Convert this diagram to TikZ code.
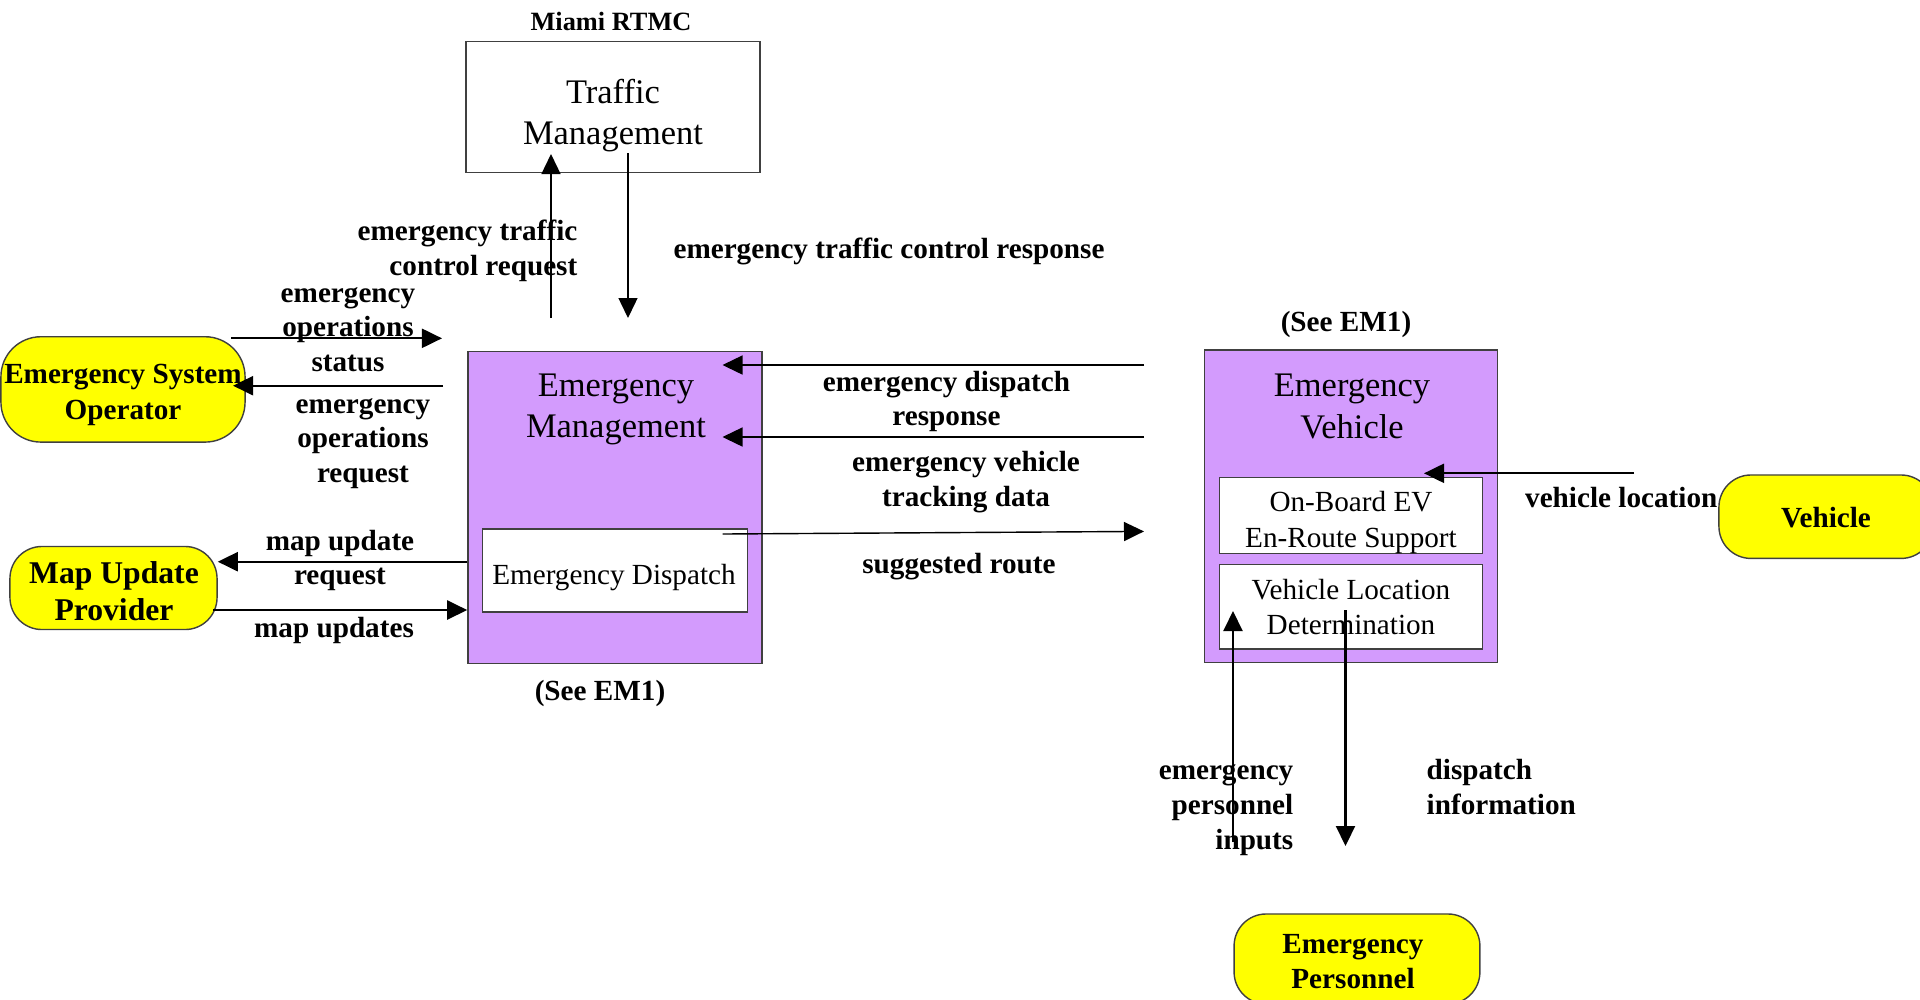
\documentclass[tikz,border=0pt]{standalone}
\usepackage{fontspec}
\setmainfont{Liberation Serif}
\usepackage{tikz}
\usetikzlibrary{arrows.meta,positioning,calc}

\definecolor{empurple}{HTML}{D39BFD}
\definecolor{termyellow}{HTML}{FFFF00}

\begin{document}
\begin{tikzpicture}[x=0.01cm,y=-0.01cm,>={Triangle[length=2mm,width=1.9mm]},
  flow/.style={->,line width=0.6pt},
  thinflow/.style={->,line width=0.4pt},
  lbl/.style={font=\bfseries\fontsize{8.3}{9.9}\selectfont,align=center,inner sep=0pt},
  title/.style={font=\fontsize{9.8}{11.7}\selectfont,align=center,inner sep=0pt},
  sub/.style={font=\fontsize{8.3}{10}\selectfont,align=center,inner sep=0pt},
  box/.style={draw=black!75,line width=0.4pt,inner sep=0pt,align=center,font=\fontsize{8.3}{10}\selectfont},
  term/.style={draw=black!75,line width=0.4pt,fill=termyellow,rounded corners=0.32cm,inner sep=0pt},
  termtext/.style={font=\bfseries\fontsize{8.3}{10.1}\selectfont,align=center,inner sep=0pt}]
\useasboundingbox (0,0) rectangle (1920,999);
% subsystems
\node[box,minimum width=2.94cm,minimum height=1.31cm] (tm) at (613,107) {};
\node[title] (tmtext) at (613,115.5) {Traffic\\Management};
\node[lbl,font=\bfseries\fontsize{7.5}{9}\selectfont] (rtmc) at (611,21) {Miami RTMC};
\node[box,fill=empurple,minimum width=2.94cm,minimum height=3.12cm] (em) at (615,507.5) {};
\node[title] (emtitle) at (616,409.5) {Emergency\\Management};
\node[box,fill=white,minimum width=2.645cm,minimum height=0.83cm] (ed) at (615,570.5) {};
\node[sub] (edtext) at (614,577.5) {Emergency Dispatch};
\node[lbl] (emref) at (600,693.5) {(See EM1)};
\node[box,fill=empurple,minimum width=2.926cm,minimum height=3.125cm] (ev) at (1351,506.3) {};
\node[title] (evtitle) at (1352,406.5) {Emergency\\Vehicle};
\node[box,fill=white,minimum width=2.632cm,minimum height=0.759cm] (ob) at (1351,515.5) {};
\node[sub] (obtext) at (1351,522.5) {On-Board EV\\En-Route Support};
\node[box,fill=white,minimum width=2.632cm,minimum height=0.845cm] (vld) at (1351,606.8) {Vehicle Location\\Determination};
\node[lbl] (evref) at (1346,324.5) {(See EM1)};
% terminators
\node[term,rounded corners=0.4cm,minimum width=2.44cm,minimum height=1.053cm] (eso) at (123,389.4) {};
\node[termtext] (esotext) at (123,395) {Emergency System\\Operator};
\node[term,minimum width=2.07cm,minimum height=0.83cm] (mup) at (113.5,588) {};
\node[termtext,font=\bfseries\fontsize{9}{10.5}\selectfont] (muptext) at (114,591.5) {Map Update\\Provider};
\node[term,minimum width=2.14cm,minimum height=0.834cm] (veh) at (1826,516.7) {};
\node[termtext] (vehtext) at (1826,518) {Vehicle};
\node[term,minimum width=2.457cm,minimum height=0.9cm] (ep) at (1357,959) {};
\node[termtext] (eptext) at (1353,961.5) {Emergency\\Personnel};
% flow ends
\coordinate (etcreq-a) at (551,318);
\coordinate (etcreq-b) at (551,154);
\coordinate (etcresp-a) at (628,153);
\coordinate (etcresp-b) at (628,318);
\coordinate (eos-a) at (231,338.3);
\coordinate (eos-b) at (442,338.3);
\coordinate (eor-a) at (443,385.7);
\coordinate (eor-b) at (233,385.7);
\coordinate (edr-a) at (1144,365);
\coordinate (edr-b) at (722.5,365);
\coordinate (evtd-a) at (1144,437);
\coordinate (evtd-b) at (722.5,437);
\coordinate (sr-a) at (722.5,534);
\coordinate (sr-b) at (1144,531.4);
\coordinate (vl-a) at (1634,473.3);
\coordinate (vl-b) at (1424,473.3);
\coordinate (epi-a) at (1233,842);
\coordinate (epi-b) at (1233,611);
\coordinate (di-a) at (1345.5,610);
\coordinate (di-b) at (1345.5,846);
% flows
\draw[thinflow] (etcreq-a) -- (etcreq-b);
\draw[thinflow] (etcresp-a) -- (etcresp-b);
\draw[flow] (eos-a) -- (eos-b);
\draw[flow] (eor-a) -- (eor-b);
\draw[flow] (em.west |- 0,561.7) -- (mup.east |- 0,561.7);
\draw[flow] (213,610) -- (em.west |- 0,610);
\draw[thinflow] (edr-a) -- (edr-b);
\draw[thinflow] (evtd-a) -- (evtd-b);
\draw[thinflow] (sr-a) -- (sr-b);
\draw[flow] (vl-a) -- (vl-b);
\draw[flow] (epi-a) -- (epi-b);
\draw[flow] (di-a) -- (di-b);
% flow labels
\node[lbl,anchor=east,align=right] (etcreqlbl) at (578,250.5) {emergency traffic\\control request};
\node[lbl] (etcresplbl) at (889,251) {emergency traffic control response};
\node[lbl] (eoslbl) at (348,329.5) {emergency\\operations\\status};
\node[lbl] (eorlbl) at (363,443.5) {emergency\\operations\\request};
\node[lbl] (murlbl) at (340,560.5) {map update\\request};
\node[lbl] (mulbl) at (334,630.5) {map updates};
\node[lbl] (edrlbl) at (946.5,401.5) {emergency dispatch\\response};
\node[lbl] (evtdlbl) at (966,482) {emergency vehicle\\tracking data};
\node[lbl] (srlbl) at (959,566.5) {suggested route};
\node[lbl,anchor=east] (vllbl) at (1718,497.5) {vehicle location};
\node[lbl,anchor=east,align=right] (epilbl) at (1294,810) {emergency\\personnel\\inputs};
\node[lbl,anchor=west,align=left] (dilbl) at (1426,787) {dispatch\\information};
\end{tikzpicture}
\end{document}
